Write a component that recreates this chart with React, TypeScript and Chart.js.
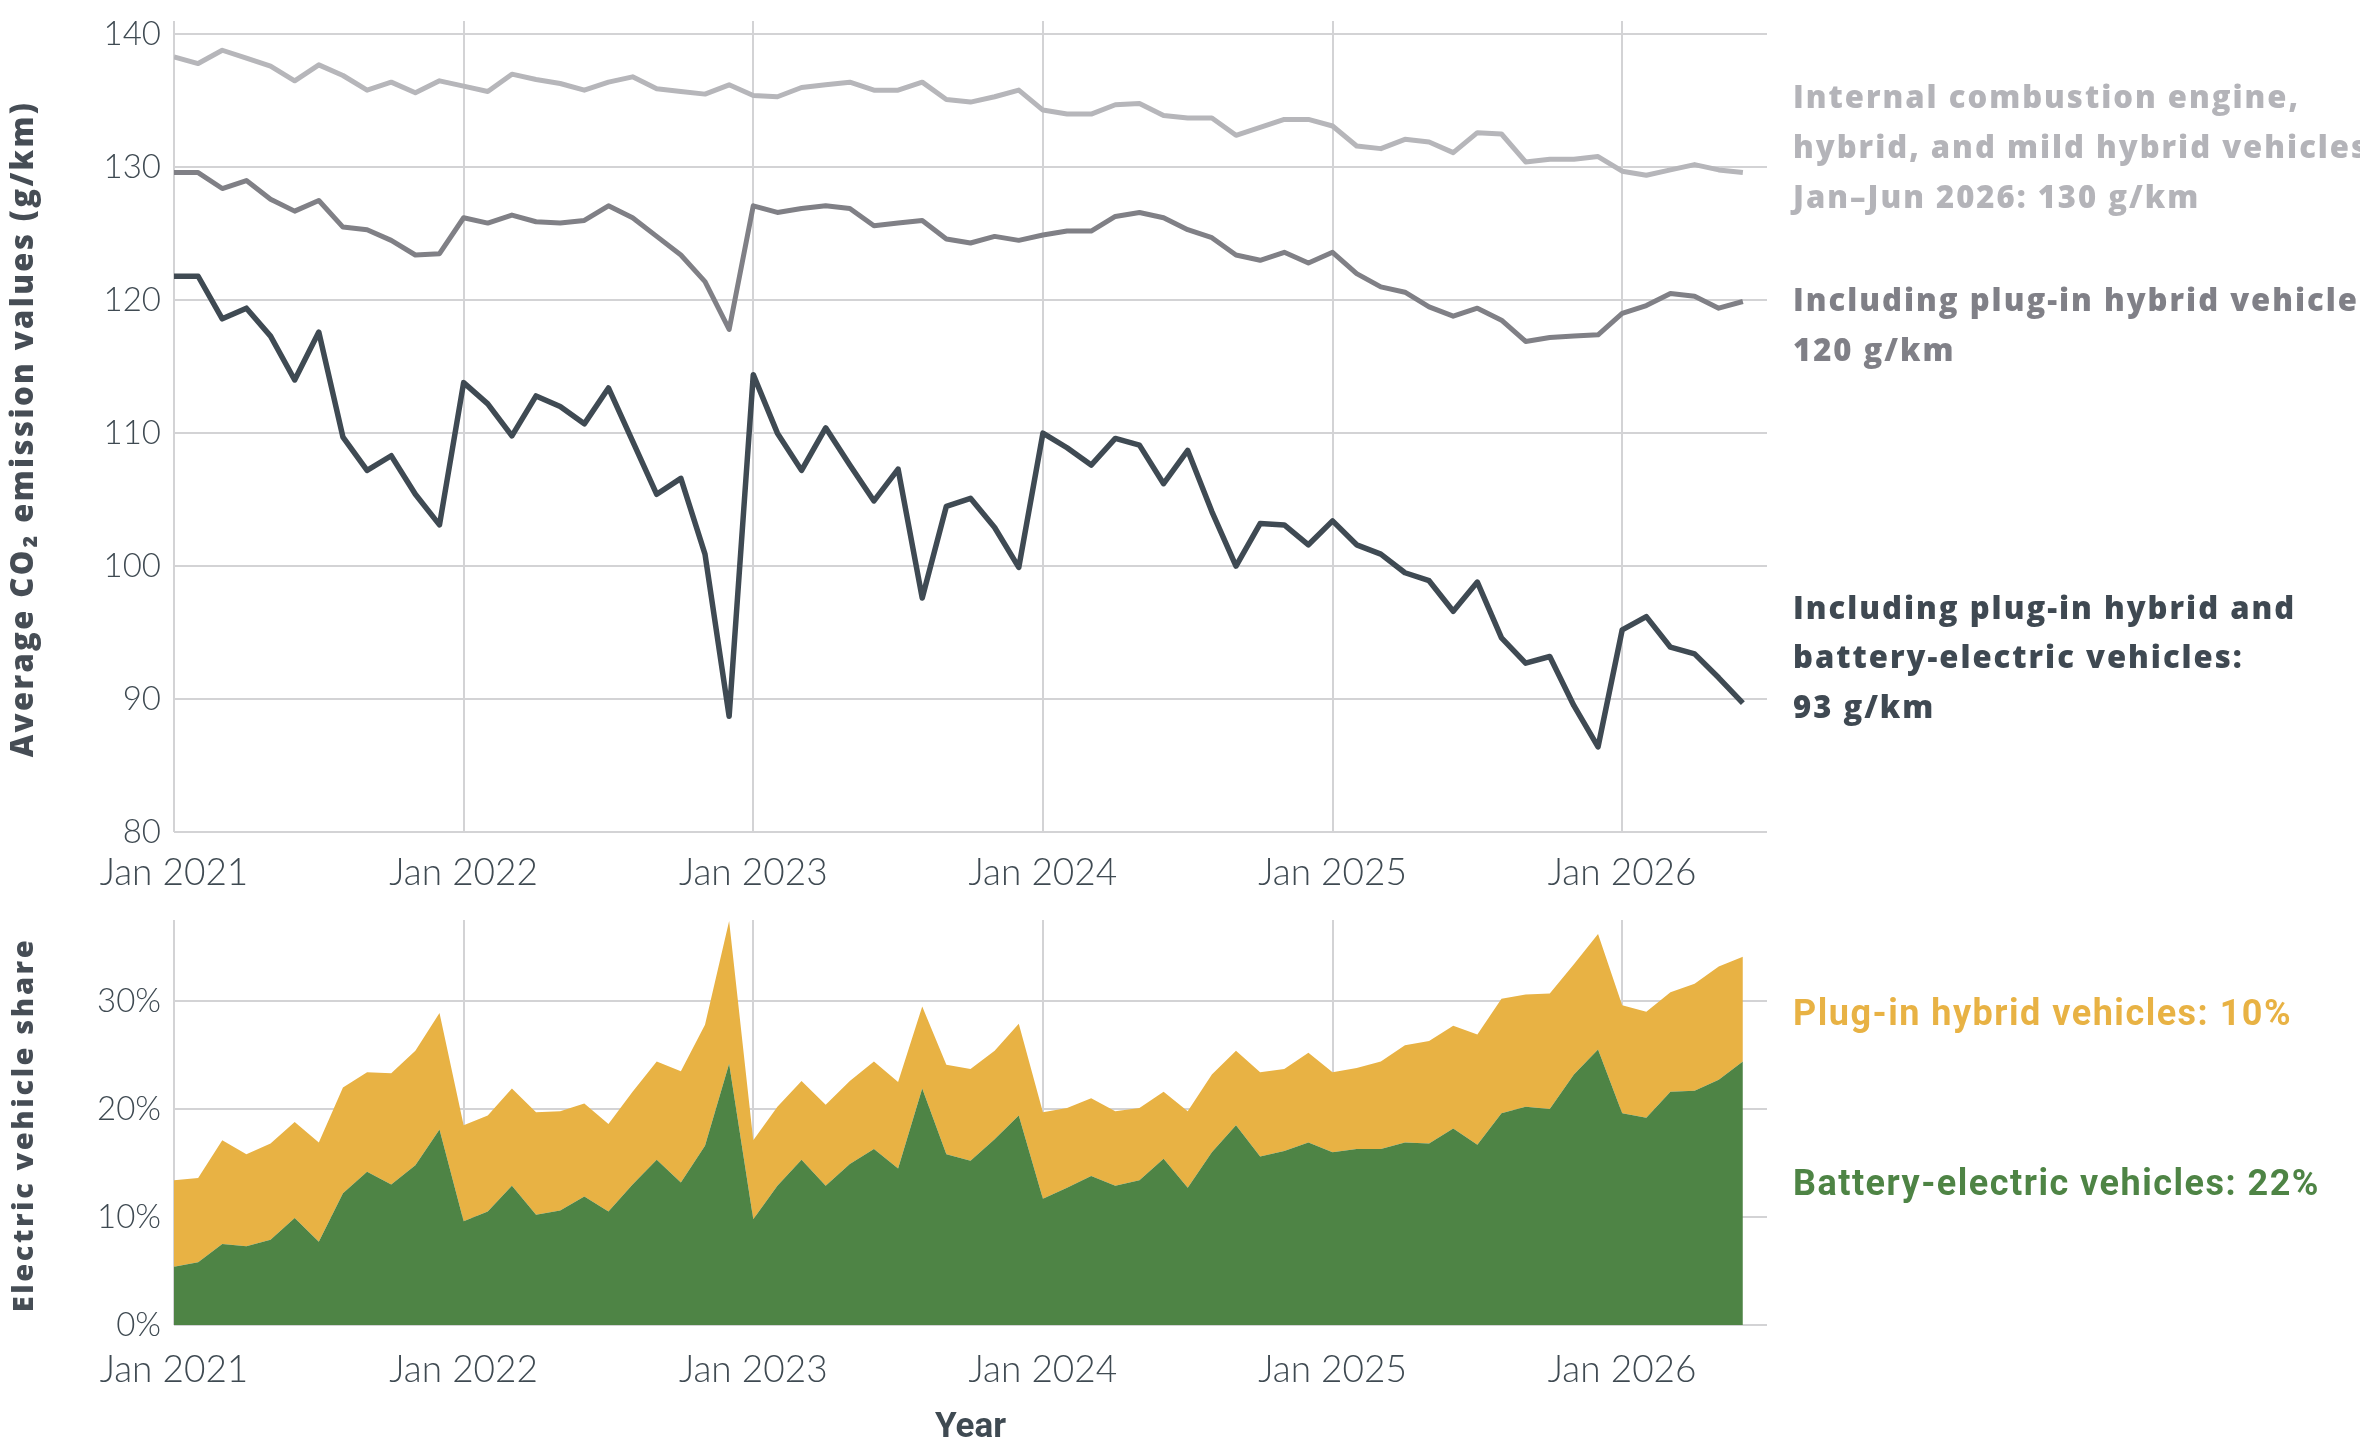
import React, { useEffect, useRef } from 'react';
import { Chart, registerables } from 'chart.js';

Chart.register(...registerables);

// monthly categories, Jan 2021 .. Jun 2026
const months: string[] = [];
for (let y = 2021; y <= 2026; y++) {
  for (let m = 1; m <= 12; m++) {
    if (y === 2026 && m > 6) break;
    months.push(`${y}-${String(m).padStart(2, '0')}`);
  }
}

// g/km, ICE + hybrid + mild hybrid
const iceValues = [
  138.3, 137.8, 138.8, 138.2, 137.6, 136.5, 137.7, 136.9, 135.8, 136.4, 135.6, 136.5,
  136.1, 135.7, 137.0, 136.6, 136.3, 135.8, 136.4, 136.8, 135.9, 135.7, 135.5, 136.2,
  135.4, 135.3, 136.0, 136.2, 136.4, 135.8, 135.8, 136.4, 135.1, 134.9, 135.3, 135.8,
  134.3, 134.0, 134.0, 134.7, 134.8, 133.9, 133.7, 133.7, 132.4, 133.0, 133.6, 133.6,
  133.1, 131.6, 131.4, 132.1, 131.9, 131.1, 132.6, 132.5, 130.4, 130.6, 130.6, 130.8,
  129.7, 129.4, 129.8, 130.2, 129.8, 129.6,
];

// g/km, including plug-in hybrids
const withPhevValues = [
  129.6, 129.6, 128.4, 129.0, 127.6, 126.7, 127.5, 125.5, 125.3, 124.5, 123.4, 123.5,
  126.2, 125.8, 126.4, 125.9, 125.8, 126.0, 127.1, 126.2, 124.8, 123.4, 121.4, 117.8,
  127.1, 126.6, 126.9, 127.1, 126.9, 125.6, 125.8, 126.0, 124.6, 124.3, 124.8, 124.5,
  124.9, 125.2, 125.2, 126.3, 126.6, 126.2, 125.3, 124.7, 123.4, 123.0, 123.6, 122.8,
  123.6, 122.0, 121.0, 120.6, 119.5, 118.8, 119.4, 118.5, 116.9, 117.2, 117.3, 117.4,
  119.0, 119.6, 120.5, 120.3, 119.4, 119.9,
];

// g/km, including plug-in hybrids and battery-electric
const withBevValues = [
  121.8, 121.8, 118.6, 119.4, 117.3, 114.0, 117.6, 109.7, 107.2, 108.3, 105.4, 103.1,
  113.8, 112.2, 109.8, 112.8, 112.0, 110.7, 113.4, 109.4, 105.4, 106.6, 100.9, 88.7,
  114.4, 110.0, 107.2, 110.4, 107.6, 104.9, 107.3, 97.6, 104.5, 105.1, 102.9, 99.9,
  110.0, 108.9, 107.6, 109.6, 109.1, 106.2, 108.7, 104.1, 100.0, 103.2, 103.1, 101.6,
  103.4, 101.6, 100.9, 99.5, 98.9, 96.6, 98.8, 94.6, 92.7, 93.2, 89.5, 86.4,
  95.2, 96.2, 93.9, 93.4, 91.6, 89.7,
];

// % of new registrations
const bevShare = [
  5.4, 5.8, 7.5, 7.3, 7.9, 9.9, 7.7, 12.2, 14.2, 13.0, 14.8, 18.1,
  9.6, 10.5, 12.9, 10.2, 10.6, 11.9, 10.5, 13.0, 15.3, 13.2, 16.6, 24.2,
  9.8, 12.9, 15.3, 12.9, 14.9, 16.3, 14.5, 21.9, 15.8, 15.2, 17.2, 19.4,
  11.7, 12.7, 13.8, 12.9, 13.4, 15.4, 12.7, 16.0, 18.5, 15.6, 16.1, 16.9,
  16.0, 16.3, 16.3, 16.9, 16.8, 18.2, 16.7, 19.6, 20.2, 20.0, 23.2, 25.5,
  19.6, 19.2, 21.6, 21.7, 22.7, 24.4,
];

const phevShare = [
  8.0, 7.8, 9.6, 8.5, 8.9, 8.9, 9.2, 9.8, 9.2, 10.3, 10.6, 10.8,
  8.9, 8.9, 9.0, 9.5, 9.2, 8.6, 8.1, 8.6, 9.1, 10.3, 11.2, 13.2,
  7.3, 7.3, 7.3, 7.5, 7.7, 8.1, 8.0, 7.6, 8.3, 8.5, 8.2, 8.5,
  8.0, 7.4, 7.2, 6.9, 6.7, 6.2, 7.1, 7.2, 6.9, 7.8, 7.6, 8.3,
  7.4, 7.5, 8.1, 9.0, 9.5, 9.5, 10.2, 10.6, 10.4, 10.7, 10.2, 10.7,
  10.0, 9.8, 9.2, 9.9, 10.5, 9.7,
];

const xTickMonths = ['2021-01', '2022-01', '2023-01', '2024-01', '2025-01', '2026-01'];
const xTickLabels = ['Jan 2021', 'Jan 2022', 'Jan 2023', 'Jan 2024', 'Jan 2025', 'Jan 2026'];
const co2Ticks = [80, 90, 100, 110, 120, 130, 140];
const shareTicks = [0, 10, 20, 30];

const co2Labels = [
  { lines: ['Internal combustion engine,', 'hybrid, and mild hybrid vehicles', 'Jan–Jun 2026: 130 g/km'], color: '#b4b4b9', y: [108, 158, 208] },
  { lines: ['Including plug-in hybrid vehicles:', '120 g/km'], color: '#808087', y: [311, 361] },
  { lines: ['Including plug-in hybrid and', 'battery-electric vehicles:', '93 g/km'], color: '#3f4952', y: [619, 668, 718] },
];
const shareLabels = [
  { text: 'Plug-in hybrid vehicles: 10%', color: '#e8b244', y: 1025 - 900 },
  { text: 'Battery-electric vehicles: 22%', color: '#4e8445', y: 1195 - 900 },
];

const TEXT = '#3f4a52';
const GRID = '#d3d3d5';
const PLOT_LEFT = 174;
const PLOT_RIGHT = 1767;
const LABEL_X = 1793;

const points = (vals: number[]) => vals.map((v, i) => ({ x: i, y: v }));

const xScale = (height: number, pad: number) => ({
  type: 'linear' as const,
  min: 0,
  max: months.length,
  afterBuildTicks: (s: any) => {
    s.ticks = xTickMonths.map((m) => ({ value: months.indexOf(m) }));
  },
  afterFit: (s: any) => {
    s.height = height;
    s.paddingLeft = 0;
    s.paddingRight = 0;
  },
  grid: { color: GRID, lineWidth: 2, drawTicks: false },
  border: { display: false },
  ticks: {
    autoSkip: false,
    maxRotation: 0,
    padding: pad,
    color: TEXT,
    font: { family: 'Lato', size: 37, weight: 300 },
    callback: (_v: any, i: number) => xTickLabels[i],
  },
});

const yScaleBase = (ticks: number[], fmt: (v: number) => string) => ({
  afterBuildTicks: (s: any) => {
    s.ticks = ticks.map((v) => ({ value: v }));
  },
  afterFit: (s: any) => {
    s.width = PLOT_LEFT;
    s.paddingTop = 0;
    s.paddingBottom = 0;
  },
  grid: { color: GRID, lineWidth: 2, drawTicks: false },
  border: { display: false },
  ticks: {
    padding: 13,
    color: TEXT,
    font: { family: 'Lato', size: 33, weight: 300 },
    callback: (v: any) => fmt(Number(v)),
  },
});

const drawYTitle = (ctx: CanvasRenderingContext2D, text: string, cy: number, size: number, spacing: number) => {
  ctx.save();
  ctx.translate(33, cy);
  ctx.rotate(-Math.PI / 2);
  ctx.font = `800 ${size}px "Open Sans"`;
  (ctx as any).letterSpacing = `${spacing}px`;
  ctx.fillStyle = '#464d55';
  ctx.textAlign = 'center';
  ctx.textBaseline = 'alphabetic';
  ctx.fillText(text, 0, 0);
  (ctx as any).letterSpacing = '0px';
  ctx.restore();
};

const co2TextPlugin = {
  id: 'co2Text',
  afterDraw(chart: any) {
    const ctx = chart.ctx as CanvasRenderingContext2D;
    ctx.save();
    ctx.font = '800 31px "Open Sans"';
    (ctx as any).letterSpacing = '2px';
    ctx.textAlign = 'left';
    ctx.textBaseline = 'alphabetic';
    co2Labels.forEach((l) => {
      ctx.fillStyle = l.color;
      l.lines.forEach((t, i) => ctx.fillText(t, LABEL_X, l.y[i]));
    });
    (ctx as any).letterSpacing = '0px';
    ctx.restore();
    drawYTitle(ctx, 'Average CO₂ emission values (g/km)', 429, 31, 2.4);
  },
};

const shareTextPlugin = {
  id: 'shareText',
  afterDraw(chart: any) {
    const ctx = chart.ctx as CanvasRenderingContext2D;
    ctx.save();
    ctx.font = 'bold 36px Roboto';
    (ctx as any).letterSpacing = '1.5px';
    ctx.textAlign = 'left';
    ctx.textBaseline = 'alphabetic';
    shareLabels.forEach((l) => {
      ctx.fillStyle = l.color;
      ctx.fillText(l.text, LABEL_X, l.y);
    });
    (ctx as any).letterSpacing = '0px';
    ctx.fillStyle = TEXT;
    ctx.textAlign = 'center';
    ctx.textBaseline = 'middle';
    ctx.font = 'bold 35px Roboto';
    ctx.fillText('Year', (PLOT_LEFT + PLOT_RIGHT) / 2, 1428 - 900);
    ctx.restore();
    drawYTitle(ctx, 'Electric vehicle share', 1125 - 900, 29, 2.6);
  },
};

const App = () => {
  const co2Ref = useRef<HTMLCanvasElement>(null);
  const shareRef = useRef<HTMLCanvasElement>(null);

  useEffect(() => {
    document.body.style.margin = '0';
    if (!co2Ref.current || !shareRef.current) return;

    const co2Chart = new Chart(co2Ref.current, {
      type: 'line',
      data: {
        datasets: [
          { data: points(iceValues), borderColor: '#b6b6ba', borderWidth: 5 },
          { data: points(withPhevValues), borderColor: '#808086', borderWidth: 5 },
          { data: points(withBevValues), borderColor: '#3f4a53', borderWidth: 5.5 },
        ].map((d) => ({ ...d, pointRadius: 0, fill: false, tension: 0, borderJoinStyle: 'round' as const })),
      },
      options: {
        responsive: false,
        animation: false,
        devicePixelRatio: 1,
        layout: { padding: { left: 0, top: 21, right: 2360 - PLOT_RIGHT, bottom: 0 } },
        plugins: { legend: { display: false }, tooltip: { enabled: false } },
        scales: {
          x: xScale(900 - 832, 19),
          y: { ...yScaleBase(co2Ticks, (v) => String(v)), min: 80, max: 141 },
        },
      },
      plugins: [co2TextPlugin],
    });

    const shareChart = new Chart(shareRef.current, {
      type: 'line',
      data: {
        datasets: [
          { data: points(bevShare), backgroundColor: '#4e8445', fill: 'origin' },
          { data: points(phevShare), backgroundColor: '#e8b244', fill: '-1' },
        ].map((d) => ({ ...d, borderWidth: 0, pointRadius: 0, tension: 0 })),
      },
      options: {
        responsive: false,
        animation: false,
        devicePixelRatio: 1,
        layout: { padding: { left: 0, top: 20, right: 2360 - PLOT_RIGHT, bottom: 0 } },
        plugins: { legend: { display: false }, tooltip: { enabled: false } },
        scales: {
          x: { ...xScale(550 - 425, 23), stacked: true },
          y: { ...yScaleBase(shareTicks, (v) => `${v}%`), min: 0, max: 37.5, stacked: true },
        },
      },
      plugins: [shareTextPlugin],
    });

    return () => {
      co2Chart.destroy();
      shareChart.destroy();
    };
  }, []);

  return (
    <div style={{ position: 'relative', width: 2360, height: 1450, background: '#fff', overflow: 'hidden' }}>
      <canvas ref={co2Ref} width={2360} height={900} style={{ position: 'absolute', left: 0, top: 0, width: 2360, height: 900 }} />
      <canvas ref={shareRef} width={2360} height={550} style={{ position: 'absolute', left: 0, top: 900, width: 2360, height: 550 }} />
    </div>
  );
};

export default App;
